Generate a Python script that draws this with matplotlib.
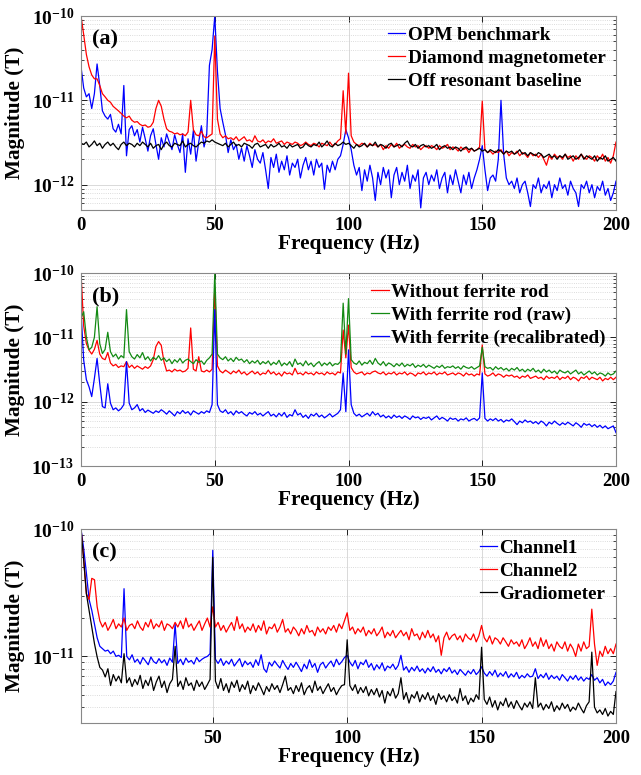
import numpy as np
import matplotlib
matplotlib.use("Agg")
import matplotlib.pyplot as plt
from matplotlib.ticker import LogLocator, NullFormatter, FixedLocator

plt.rcParams['font.family'] = ['Liberation Serif', 'DejaVu Serif']
plt.rcParams['font.weight'] = 'bold'
plt.rcParams['mathtext.fontset'] = 'custom'
plt.rcParams['mathtext.rm'] = 'Liberation Serif:bold'
plt.rcParams['mathtext.bf'] = 'Liberation Serif:bold'

# frequency bins (Hz), 1 Hz resolution
freq = np.arange(0, 201)

# ---- panel (a) values in pT ----
opm_a = [25, 14, 11, 12, 8, 12, 27, 15, 7.5, 6.5,
         6, 6.8, 4.6, 4.2, 5.2, 4.0, 15, 2.2, 4.5, 5.0,
         3.8, 4.5, 3.2, 4.8, 3.5, 2.5, 3.8, 4.6, 3.0, 2.0,
         3.6, 2.8, 4.0, 3.2, 2.6, 3.9, 3.0, 2.4, 4.0, 1.4,
         3.5, 2.3, 4.4, 1.9, 3.2, 5.0, 2.8, 4.0, 26, 40,
         100, 22, 8, 5.5, 3.9, 2.4, 3.4, 2.6, 3.0, 2.0,
         2.7, 1.9, 2.9, 2.2, 1.6, 2.6, 2.0, 1.8, 2.4, 1.5,
         0.9, 2.1, 1.6, 2.3, 1.4, 1.9, 1.5, 2.2, 1.3, 1.8,
         1.6, 2.0, 1.2, 1.7, 2.1, 1.5, 1.9, 1.3, 2.0, 1.6,
         1.8, 0.88, 1.7, 1.4, 1.9, 1.5, 2.0, 2.2, 3.0, 4.5,
         3.6, 2.6, 1.7, 1.3, 1.6, 0.85, 1.5, 1.1, 1.7, 1.2,
         0.65, 1.4, 1.0, 1.6, 1.2, 1.5, 0.7, 1.3, 1.6, 1.0,
         1.4, 1.1, 1.7, 0.9, 1.3, 1.1, 1.5, 0.53, 1.2, 1.4,
         1.0, 1.3, 1.1, 1.5, 0.9, 1.2, 1.4, 0.8, 1.3, 1.0,
         1.5, 1.1, 0.8, 1.3, 1.0, 1.4, 0.9, 1.2, 1.5, 2.0,
         2.9, 1.5, 0.85, 1.2, 1.3, 1.1, 2.0, 10, 2.3, 1.2,
         1.0, 1.1, 0.9, 1.2, 0.8, 1.0, 1.1, 0.8, 0.55, 1.0,
         0.9, 1.2, 0.8, 1.0, 0.9, 1.1, 0.7, 1.0, 0.85, 1.2,
         0.9, 1.0, 0.75, 1.1, 0.9, 0.8, 0.55, 1.0, 0.9, 1.1,
         0.8, 1.0, 0.7, 0.95, 0.85, 1.1, 0.75, 0.9, 0.65, 0.8,
         1.1]
diamond_a = [100, 60, 35, 25, 20, 18, 18, 15, 12, 11,
             10, 9.5, 8.5, 8, 7.5, 7, 6.5, 6.2, 6.5, 5.8,
             5.5, 5.6, 5.2, 5.0, 5.1, 4.8, 4.9, 5.5, 8, 10,
             8.5, 6, 4.6, 4.3, 4.2, 4.0, 4.1, 3.9, 4.0, 3.8,
             4.2, 10, 4.5, 3.9, 3.8, 4.3, 3.7, 3.6, 3.8, 4.0,
             58, 6, 4.0, 3.6, 3.8, 3.5, 3.6, 3.4, 3.7, 3.3,
             3.5, 3.7, 3.3, 3.4, 3.2, 3.8, 3.3, 3.2, 3.4, 3.1,
             3.3, 3.2, 3.5, 3.1, 3.2, 3.3, 3.0, 3.2, 3.1, 3.0,
             3.2, 3.1, 2.9, 3.0, 3.2, 3.0, 2.9, 3.1, 3.0, 2.8,
             3.1, 3.0, 2.9, 3.2, 2.9, 3.0, 3.3, 3.5, 13, 4.0,
             21, 3.8, 3.2, 3.0, 2.9, 3.1, 3.0, 2.8, 3.1, 2.9,
             3.0, 2.8, 3.0, 2.6, 2.9, 2.7, 3.0, 2.8, 3.1, 2.7,
             2.9, 3.0, 2.8, 2.7, 3.0, 2.8, 2.9, 2.6, 2.8, 2.9,
             2.7, 2.9, 2.8, 2.6, 2.9, 2.7, 2.8, 3.0, 2.6, 2.8,
             2.7, 2.5, 2.8, 2.6, 2.7, 2.4, 2.7, 2.5, 2.6, 2.8,
             9.8, 2.6, 2.4, 2.5, 2.3, 2.5, 2.4, 2.6, 2.3, 2.5,
             2.2, 2.4, 2.3, 2.5, 2.2, 2.4, 2.3, 2.1, 2.4, 2.2,
             2.3, 2.1, 2.3, 2.0, 1.7, 2.2, 2.0, 2.3, 2.1, 2.2,
             2.0, 2.3, 2.1, 2.2, 1.9, 2.2, 2.0, 2.3, 2.1, 2.0,
             2.2, 2.1, 1.9, 2.2, 2.0, 2.3, 1.9, 2.1, 1.8, 2.2,
             3.2]
baseline_a = [3.1, 3.0, 3.2, 2.8, 3.0, 3.3, 2.9, 3.1, 2.7, 3.0,
              3.2, 2.9, 3.1, 2.8, 2.6, 3.0, 3.2, 2.9, 3.1, 3.0,
              2.8, 3.1, 2.9, 3.2, 3.0, 2.8, 3.1, 2.7, 2.9, 3.0,
              2.6, 3.0, 3.2, 2.9, 2.8, 3.1, 3.0, 2.9, 3.3, 2.8,
              3.0, 3.1, 2.9, 2.8, 3.0, 3.2, 3.1, 3.3, 3.2, 3.4,
              3.2, 3.1, 3.0, 2.9, 3.1, 2.8, 3.0, 3.2, 2.9, 3.0,
              2.8, 3.1, 3.0, 2.9, 2.7, 3.0, 3.1, 2.8, 2.9, 3.0,
              2.7, 3.0, 2.8, 2.9, 3.1, 2.8, 2.9, 2.7, 3.0, 2.8,
              2.9, 3.0, 2.7, 2.8, 3.1, 2.9, 2.8, 3.0, 2.9, 3.2,
              2.8, 3.0, 3.3, 2.9, 2.8, 3.1, 2.9, 3.0, 3.2, 3.0,
              3.1, 2.9, 2.7, 3.0, 2.8, 2.9, 3.1, 2.8, 3.0, 2.9,
              3.2, 2.8, 3.0, 2.9, 2.7, 3.0, 3.1, 2.8, 2.9, 3.0,
              2.8, 3.1, 3.3, 2.9, 2.8, 3.0, 2.7, 2.9, 3.0, 2.8,
              2.9, 2.7, 2.8, 3.0, 2.6, 2.8, 2.9, 2.7, 2.8, 2.6,
              2.8, 2.7, 2.5, 2.7, 2.8, 2.6, 2.7, 2.5, 2.6, 2.7,
              2.5, 2.6, 2.4, 2.6, 2.5, 2.4, 2.6, 2.5, 2.3, 2.5,
              2.4, 2.5, 2.3, 2.4, 2.6, 2.3, 2.4, 2.2, 2.4, 2.3,
              2.2, 2.4, 2.3, 2.1, 2.2, 2.3, 2.1, 2.2, 2.0, 2.2,
              2.1, 2.3, 2.0, 2.1, 2.2, 2.0, 2.1, 2.3, 2.0, 2.2,
              2.1, 2.0, 2.2, 1.9, 2.1, 2.0, 2.2, 1.9, 2.0, 2.1,
              1.9]

# ---- panel (b) values in pT ----
no_rod_b = [100, 15, 8, 6.3, 5.5, 6.5, 9, 5.5, 4.7, 4.5,
            5.8, 4.0, 3.6, 3.8, 3.4, 3.6, 3.5, 4.2, 3.4, 3.7,
            3.3, 3.6, 3.4, 3.2, 3.5, 3.3, 3.6, 4.5, 7.2, 8.6,
            7.5, 4.2, 3.0, 3.1, 2.9, 3.2, 3.0, 3.1, 2.9, 3.0,
            3.3, 14, 3.2, 3.0, 5.0, 3.0, 2.9, 3.1, 2.9, 3.2,
            60, 3.6, 3.0, 2.8, 3.1, 2.9, 2.7, 3.0, 2.8, 3.1,
            2.7, 2.9, 2.6, 2.8, 3.0, 2.7, 2.9, 2.6, 2.8, 2.7,
            3.1, 2.7, 2.9, 2.6, 2.8, 2.5, 2.9, 2.7, 2.8, 2.6,
            3.3, 2.7, 2.8, 2.6, 2.9, 2.7, 2.8, 2.6, 2.9, 2.7,
            2.8, 2.6, 2.9, 2.7, 2.8, 2.6, 2.9, 2.8, 13, 4.8,
            15.5, 3.4, 2.9, 2.7, 2.8, 2.9, 2.6, 2.8, 2.7, 2.9,
            3.0, 2.8, 2.7, 2.9, 2.6, 2.8, 2.7, 2.9, 2.6, 2.8,
            2.7, 2.9, 2.6, 2.8, 2.7, 2.5, 2.8, 2.7, 2.9, 2.6,
            2.8, 2.7, 2.9, 2.6, 2.8, 2.7, 2.9, 2.6, 2.7, 2.8,
            2.6, 2.8, 2.7, 2.5, 2.8, 2.6, 2.7, 2.5, 2.7, 2.6,
            7.6, 2.7, 2.5, 2.6, 2.8, 2.5, 2.7, 2.6, 2.4, 2.6,
            2.5, 2.6, 2.4, 2.5, 2.3, 2.5, 2.4, 2.6, 2.3, 2.4,
            2.5, 2.3, 2.4, 2.2, 2.5, 2.3, 2.4, 2.3, 2.5, 2.2,
            2.4, 2.3, 2.5, 2.2, 2.4, 2.3, 2.1, 2.4, 2.3, 2.5,
            2.2, 2.4, 2.3, 2.2, 2.4, 2.1, 2.3, 2.2, 2.4, 2.2,
            2.4]
rod_raw_b = [20, 25, 10, 6.4, 7, 10, 30, 8, 5.6, 6.5,
             12, 6.0, 5.0, 5.5, 4.6, 5.2, 4.8, 27, 6.0, 5.0,
             4.6, 5.4, 4.8, 5.8, 4.5, 5.0, 4.3, 4.9, 4.5, 5.2,
             4.4, 4.8, 4.2, 4.6, 3.9, 4.5, 4.1, 4.7, 4.0, 4.4,
             4.6, 4.2, 3.9, 4.5, 4.1, 4.3, 3.8, 4.4, 4.8, 5.5,
             100, 5.5, 4.8, 4.5, 5.0, 4.3, 4.7, 4.2, 4.9, 4.4,
             4.6, 4.1, 4.5, 3.9, 4.3, 4.0, 4.4, 3.8, 4.2, 3.9,
             4.3, 3.7, 4.1, 3.8, 4.4, 3.6, 4.0, 3.7, 4.2, 3.5,
             4.6, 3.8, 4.0, 3.6, 4.3, 3.7, 4.0, 3.5, 3.9, 4.2,
             3.6, 4.0, 3.7, 4.1, 3.6, 3.9, 3.8, 4.2, 34, 5.5,
             40, 4.5, 4.0, 3.8, 4.3, 3.7, 4.1, 3.9, 4.4, 3.8,
             4.7, 4.0, 3.7, 4.2, 3.6, 4.0, 3.8, 3.5, 3.9, 3.6,
             4.0, 3.5, 3.8, 3.6, 3.9, 3.4, 3.7, 3.5, 3.8, 3.4,
             3.7, 3.5, 3.3, 3.6, 3.4, 3.7, 3.3, 3.5, 3.4, 3.6,
             3.3, 3.5, 3.2, 3.6, 3.4, 3.3, 3.5, 3.2, 3.4, 3.6,
             7.0, 3.5, 3.3, 3.4, 3.1, 3.5, 3.2, 3.4, 3.1, 3.3,
             3.0, 3.3, 3.1, 3.4, 3.0, 3.2, 2.9, 3.2, 3.0, 3.3,
             2.9, 3.1, 2.8, 3.2, 2.9, 3.1, 2.8, 3.0, 2.7, 3.1,
             2.9, 2.8, 3.0, 2.7, 2.9, 3.1, 2.7, 2.9, 2.6, 2.8,
             3.0, 2.7, 2.9, 2.6, 2.8, 2.7, 2.5, 2.8, 2.6, 2.7,
             3.0]
recal_b = [25, 4.4, 2.2, 1.7, 1.2, 2.3, 4.7, 1.9, 0.84, 0.8,
           1.9, 0.95, 0.75, 0.8, 0.72, 0.78, 0.9, 4.2, 0.95, 0.75,
           0.8, 0.9, 0.72, 0.78, 0.68, 0.74, 0.7, 0.66, 0.72, 0.68,
           0.75, 0.7, 0.64, 0.72, 0.66, 0.6, 0.7, 0.65, 0.73, 0.66,
           0.7, 0.62, 0.72, 0.68, 0.64, 0.7, 0.66, 0.72, 0.68, 0.9,
           27, 0.9, 0.72, 0.68, 0.75, 0.65, 0.7, 0.62, 0.72, 0.66,
           0.7, 0.64, 0.6, 0.68, 0.64, 0.7, 0.62, 0.66, 0.6, 0.65,
           0.7, 0.6, 0.64, 0.58, 0.66, 0.6, 0.68, 0.57, 0.63, 0.6,
           0.75, 0.62, 0.66, 0.57, 0.62, 0.55, 0.64, 0.6, 0.66, 0.58,
           0.62, 0.56, 0.6, 0.65, 0.58, 0.62, 0.66, 0.75, 2.8, 0.7,
           6.4, 0.9, 0.66, 0.6, 0.64, 0.58, 0.62, 0.66, 0.6, 0.7,
           0.62, 0.66, 0.58, 0.62, 0.56, 0.6, 0.55, 0.62, 0.57, 0.6,
           0.55, 0.6, 0.57, 0.53, 0.6, 0.56, 0.58, 0.53, 0.57, 0.55,
           0.58, 0.52, 0.56, 0.6, 0.53, 0.57, 0.54, 0.5, 0.56, 0.53,
           0.55, 0.5, 0.54, 0.52, 0.56, 0.5, 0.53, 0.55, 0.51, 0.56,
           2.8, 0.55, 0.5, 0.54, 0.51, 0.55, 0.5, 0.53, 0.48, 0.52,
           0.5, 0.54, 0.49, 0.44, 0.5, 0.47, 0.52, 0.48, 0.5, 0.46,
           0.49, 0.45, 0.5, 0.47, 0.42, 0.48, 0.45, 0.5, 0.46, 0.43,
           0.47, 0.44, 0.48, 0.45, 0.42, 0.47, 0.44, 0.4, 0.46, 0.43,
           0.45, 0.41, 0.44, 0.4, 0.43, 0.39, 0.42, 0.38, 0.4, 0.42,
           0.33]

# ---- panel (c) values in pT ----
ch1_c = [100, 100, 70, 45, 28, 23, 18, 14, 12, 11.5,
         11, 11.2, 10.5, 11, 10, 10.2, 9.8, 34, 10, 9.4,
         10.3, 9, 9.5, 8.7, 9.8, 9.2, 8.6, 9.9, 9.1, 8.8,
         9.6, 8.9, 9.4, 8.5, 9.7, 9.0, 18, 8.8, 9.5, 8.6,
         9.7, 9.0, 9.3, 8.7, 9.8, 9.1, 9.5, 9.8, 10, 10.5,
         68, 9.5, 8.8, 9.6, 8.5, 9.2, 8.7, 9.5, 8.4, 9.0,
         9.6, 8.3, 9.2, 8.6, 9.0, 8.2, 9.4, 8.5, 10.3, 8.0,
         7.5, 9.0, 8.4, 9.2, 8.6, 8.1, 9.3, 8.5, 7.9, 8.8,
         8.2, 9.0, 8.3, 7.6, 8.7, 8.0, 9.4, 8.2, 8.8, 7.5,
         8.6, 9.0, 8.1, 8.7, 9.2, 8.3, 9.5, 8.6, 9.1, 9.8,
         10.2, 9.0, 8.4, 9.3, 8.0, 9.0, 8.6, 9.4, 8.2, 8.8,
         7.8, 8.6, 8.0, 8.9, 7.7, 8.4, 8.1, 8.7, 7.9, 8.5,
         10.2, 7.8, 8.3, 7.5, 8.2, 7.7, 8.4, 7.6, 8.0, 7.4,
         8.1, 7.6, 8.3, 7.5, 7.9, 7.3, 8.0, 7.6, 8.2, 7.4,
         7.8, 7.2, 7.9, 7.5, 7.1, 7.7, 7.3, 7.9, 7.2, 7.6,
         8.3, 7.4, 7.0, 7.6, 7.1, 7.8, 6.9, 7.4, 7.0, 7.6,
         6.8, 7.3, 6.9, 7.5, 6.7, 7.1, 6.8, 7.3, 6.9, 7.0,
         8.0, 6.7, 7.2, 6.8, 7.4, 6.6, 7.1, 6.7, 7.0, 6.5,
         7.2, 6.8, 6.4, 7.0, 6.6, 7.1, 6.5, 6.9, 6.4, 6.8,
         6.6, 7.2, 6.5, 6.8, 6.2, 6.6, 5.9, 6.3, 6.0, 6.4,
         7.5]
ch2_c = [100, 100, 57, 31, 28, 41, 40, 24.5, 19, 17,
         18.5, 16, 17.5, 19.5, 16.5, 18, 17, 20, 16, 17.5,
         18, 16.5, 19, 17, 16, 18.5, 17, 19.5, 16.5, 18,
         17, 19, 16, 18, 17.5, 16.5, 18.5, 17, 19, 16.5,
         20, 17, 18, 16, 17.5, 19, 16, 18, 20, 17,
         24.5, 17, 18.5, 16, 17.5, 15.5, 17, 18.5, 16, 20.5,
         16.5, 18, 15.5, 17, 16, 18, 15.5, 17.5, 16, 19,
         15, 17, 16.5, 18, 15.5, 17, 19.5, 15.5, 16.5, 15,
         17, 16, 14.5, 16.5, 15, 17.5, 15.5, 16, 14.5, 17,
         15.5, 16.5, 15, 17, 16, 17.5, 15.5, 18, 16.5, 19,
         22, 16, 17, 15, 16.5, 15.5, 17, 14.5, 16, 15,
         16.5, 14.5, 15.5, 17, 14, 15.5, 14.5, 16, 14, 15,
         16, 14.5, 15.5, 13.5, 16.5, 14.5, 15, 13.5, 15.5, 14,
         16, 14, 15, 13, 14.5, 10.2, 14, 15.5, 13.5, 14.5,
         15, 13.5, 14.5, 13, 15, 14, 13.5, 15, 13, 14.5,
         17.5, 14, 13, 14.5, 12.5, 14, 13.5, 12.5, 14, 13,
         12, 13.5, 12.5, 13, 12, 13.5, 11.5, 12.5, 14, 12,
         13, 11.5, 14, 12, 13.5, 11.5, 12.5, 11, 13, 12,
         11.5, 13, 11, 12.5, 11.5, 10, 12.5, 11, 13, 11.5,
         12, 23.5, 12.5, 8.5, 11, 10, 12, 10.5, 11.5, 10.5,
         12.5]
grad_c = [100, 100, 57, 31, 23, 17, 12.6, 9.9, 8.2, 7.8,
          6.9, 8.0, 5.9, 7.2, 6.4, 7.0, 6.2, 10.5, 6.2, 6.8,
          5.8, 6.6, 6.0, 7.1, 5.6, 6.5, 5.9, 6.9, 5.4, 6.3,
          7.0, 5.7, 6.4, 5.2, 6.1, 6.6, 12, 5.8, 6.4, 5.5,
          6.8, 5.9, 6.2, 5.4, 6.5, 5.8, 6.3, 5.5, 6.0, 6.6,
          60, 6.4, 5.6, 6.7, 5.4, 6.1, 5.2, 6.3, 5.7, 6.5,
          5.3, 6.0, 5.5, 6.4, 5.1, 5.9, 5.4, 6.2, 5.6, 5.0,
          5.8, 5.3, 6.1, 5.5, 5.9, 5.2, 6.0, 7.0, 5.4, 5.7,
          5.1, 5.9, 5.3, 6.2, 5.0, 5.6, 5.9, 5.2, 6.4, 5.4,
          5.8, 5.1, 5.6, 6.1, 5.3, 5.7, 5.0, 5.5, 5.9, 6.0,
          13.5, 5.9, 5.4, 6.0, 5.1, 5.7, 5.2, 5.8, 4.9, 5.5,
          5.0, 5.6, 4.8, 5.4, 4.3, 5.3, 4.9, 5.6, 4.7, 5.1,
          6.8, 4.6, 5.2, 4.3, 5.0, 4.7, 5.3, 4.4, 5.0, 4.6,
          5.2, 4.5, 4.9, 4.2, 5.1, 4.6, 4.9, 4.4, 5.0, 4.5,
          4.8, 4.3, 5.6, 4.5, 4.9, 4.2, 4.7, 4.4, 5.0, 4.6,
          11.8, 4.6, 4.2, 4.8, 4.0, 4.5, 3.8, 4.4, 4.1, 4.7,
          4.0, 4.4, 3.9, 4.5, 4.1, 3.8, 4.3, 4.0, 4.4, 3.9,
          6.8, 4.0, 4.3, 3.8, 4.2, 3.9, 4.4, 3.7, 4.1, 3.8,
          4.3, 3.9, 4.2, 3.7, 4.0, 3.8, 4.3, 3.9, 3.6, 4.1,
          4.4, 10.8, 4.0, 3.6, 3.8, 3.5, 3.9, 3.4, 3.7, 3.5,
          5.3]

PT = 1e-12
BLUE = '#0000ff'
RED = '#ff0000'
GREEN = '#138a13'
BLACK = '#000000'


def style_axes(ax, ylim, decades, xticks, xlim):
    ax.set_yscale('log')
    ax.set_xlim(*xlim)
    ax.set_ylim(*ylim)
    ax.xaxis.set_major_locator(FixedLocator(xticks))
    ax.set_xticklabels([str(t) for t in xticks])
    ax.yaxis.set_major_locator(FixedLocator([10.0 ** d for d in decades]))
    ax.set_yticklabels([r'$\mathbf{10^{%d}}$' % d for d in decades])
    ax.yaxis.set_minor_locator(LogLocator(base=10, subs=np.arange(2, 10), numticks=20))
    ax.yaxis.set_minor_formatter(NullFormatter())
    ax.tick_params(which='both', direction='in', top=True, right=True, pad=5)
    ax.tick_params(axis='x', labelsize=13.5)
    ax.tick_params(axis='y', labelsize=14)
    ax.tick_params(which='major', length=4, width=0.6)
    ax.tick_params(which='minor', length=2.5, width=0.5)
    ax.grid(True, which='major', color='#d9d9d9', lw=0.7)
    ax.yaxis.grid(True, which='minor', color='#d0d0d0', lw=0.6, linestyle=':')
    ax.set_axisbelow(True)
    for sp in ax.spines.values():
        sp.set_color('#888888')
        sp.set_linewidth(0.8)
    ax.set_xlabel('Frequency (Hz)', fontsize=15.3, fontweight='bold', labelpad=0)
    ax.set_ylabel('Magnitude (T)', fontsize=15.3, fontweight='bold')
    ax.yaxis.set_label_coords(-0.105, 0.5)


fig = plt.figure(figsize=(6.41, 7.75), dpi=100)
left, width = 0.1264, 0.8346
ax_a = fig.add_axes([left, 0.7290, width, 0.2503])
ax_b = fig.add_axes([left, 0.3987, width, 0.2490])
ax_c = fig.add_axes([left, 0.0671, width, 0.2503])

f = freq
lw = 0.9

# (a)
ax_a.plot(f, np.array(opm_a) * PT, color=BLUE, lw=lw, label='OPM benchmark')
ax_a.plot(f, np.array(diamond_a) * PT, color=RED, lw=lw, label='Diamond magnetometer')
ax_a.plot(f, np.array(baseline_a) * PT, color=BLACK, lw=lw, label='Off resonant baseline')
style_axes(ax_a, (5e-13, 1e-10), [-10, -11, -12], [0, 50, 100, 150, 200], (0, 200))
ax_a.text(0.02, 0.93, '(a)', transform=ax_a.transAxes, fontsize=16,
          fontweight='bold', va='top')

# (b)
ax_b.plot(f, np.array(no_rod_b) * PT, color=RED, lw=lw, label='Without ferrite rod')
ax_b.plot(f, np.array(rod_raw_b) * PT, color=GREEN, lw=lw, label='With ferrite rod (raw)')
ax_b.plot(f, np.array(recal_b) * PT, color=BLUE, lw=lw, label='With ferrite (recalibrated)')
style_axes(ax_b, (1e-13, 1e-10), [-10, -11, -12, -13], [0, 50, 100, 150, 200], (0, 200))
ax_b.text(0.02, 0.93, '(b)', transform=ax_b.transAxes, fontsize=16,
          fontweight='bold', va='top')

# (c)
ax_c.plot(f, np.array(ch1_c) * PT, color=BLUE, lw=lw, label='Channel1')
ax_c.plot(f, np.array(ch2_c) * PT, color=RED, lw=lw, label='Channel2')
ax_c.plot(f, np.array(grad_c) * PT, color=BLACK, lw=lw, label='Gradiometer')
style_axes(ax_c, (3e-12, 1e-10), [-10, -11], [50, 100, 150, 200], (1, 200))
ax_c.text(0.02, 0.93, '(c)', transform=ax_c.transAxes, fontsize=16,
          fontweight='bold', va='top')

for ax in (ax_a, ax_b, ax_c):
    leg = ax.legend(loc='upper right', bbox_to_anchor=(1.0, 1.0), frameon=False,
                    fontsize=13.8, handlelength=0.9, handletextpad=0.12,
                    labelspacing=0.28, borderaxespad=0.15)
    for t in leg.get_texts():
        t.set_fontweight('bold')

fig.savefig('out.png', dpi=100)
